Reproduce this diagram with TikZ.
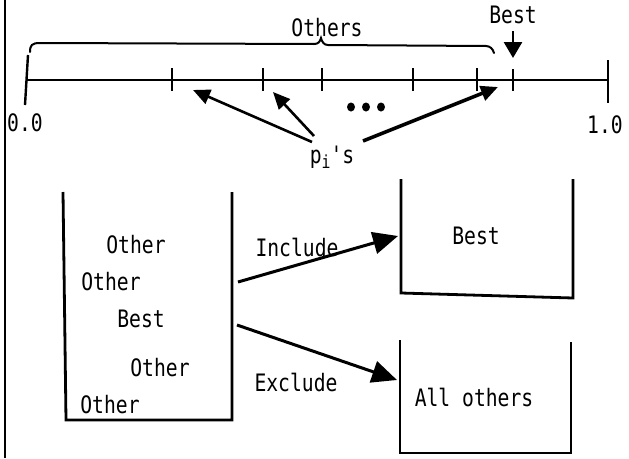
\documentclass[tikz,border=0pt]{standalone}
\usepackage{fontspec}
\newfontfamily\printfont[FakeStretch=0.82]{DejaVu Sans Mono}
\usetikzlibrary{arrows.meta}
\begin{document}
\begin{tikzpicture}[x=1pt,y=-1pt,
  txt/.style={font=\printfont\fontsize{24}{26}\selectfont, inner sep=0pt},
  axis/.style={line width=2.4pt},
  tick/.style={line width=2.4pt},
  bin/.style={line width=2.8pt, line join=miter},
  bigarrow/.style={line width=3pt, -{Triangle[length=25pt,width=22pt]}},
  ptr/.style={line width=2.6pt, -{Triangle[length=17pt,width=15pt]}},
  downarrow/.style={line width=2.8pt, -{Triangle[length=16pt,width=18pt]}}]
\useasboundingbox (0,0) rectangle (629,458);

% frame rule on the left
\draw[line width=1.6pt] (5,0) -- (5,458);

% the unit interval
\coordinate (lo) at (27,80);
\coordinate (hi) at (608,80);
\draw[axis] (lo) -- (hi);
\draw[tick] (28,55) -- (25,105);
\draw[tick] (608,60) -- (608,103);
\foreach \x in {172,263,322,413,477}
  \draw[tick] (\x,68) -- (\x,91);
\draw[tick] (513,69) -- (513,91);
\node[txt] (zero) at (25,123) {0.0};
\node[txt] (one) at (605,125) {1.0};

% brace over the other probabilities
\draw[line width=2pt, line cap=round]
  (30,52) .. controls (30,45) and (32,43) .. (40,43) -- (314,44)
  .. controls (318,44) and (320,42) .. (321,38)
  .. controls (322,42) and (324,45) .. (328,45) -- (486,46)
  .. controls (490,46) and (493,49) .. (494,53);
\node[txt] (others) at (327,28) {Others};

% the best probability
\node[txt] (bestlbl) at (513,15) {Best};
\coordinate (besttip) at (513,58);
\draw[downarrow] ([yshift=-7pt]bestlbl.south) -- (besttip);

% ellipsis
\foreach \x in {351,366,381}
  \fill (\x,107) ellipse (4 and 4.5);

% p_i's label and its pointers
\node[txt] (pis) at (332,157) {p\raisebox{-5pt}{\fontsize{18}{18}\selectfont i}'s};
\coordinate (s1) at (312,142);
\coordinate (s2) at (314,136);
\coordinate (s3) at (363,141);
\coordinate (h1) at (193,90);
\coordinate (h2) at (273,92);
\coordinate (h3) at (498,87);
\draw[ptr] (s1) -- (h1);
\draw[ptr] (s2) -- (h2);
\draw[ptr, line width=3.6pt] (s3) -- (h3);

% source bin
\draw[bin] (63,192) -- (66,420) -- (232,420) -- (232,192);
\node[txt] (o1) at (136,245) {Other};
\node[txt] (o2) at (111,282) {Other};
\node[txt] (b1) at (141,319) {Best};
\node[txt] (o3) at (160,368) {Other};
\node[txt] (o4) at (110,405) {Other};

% target bins
\draw[bin] (401,179) -- (401,293) -- (573,298) -- (573,179);
\node[txt] (bestbin) at (476,236) {Best};
\draw[bin] (400,340) -- (400,453) -- (571,453) -- (571,342);
\node[txt] (allbin) at (474,397) {All others};

% selection arrows
\coordinate (inc0) at (238,282);
\coordinate (inc1) at (398,236);
\coordinate (exc0) at (237,325);
\coordinate (exc1) at (397,380);
\node[txt] (inc) at (297,247) {Include};
\node[txt] (exc) at (296,382) {Exclude};
\draw[bigarrow] (inc0) -- (inc1);
\draw[bigarrow] (exc0) -- (exc1);
\end{tikzpicture}
\end{document}
